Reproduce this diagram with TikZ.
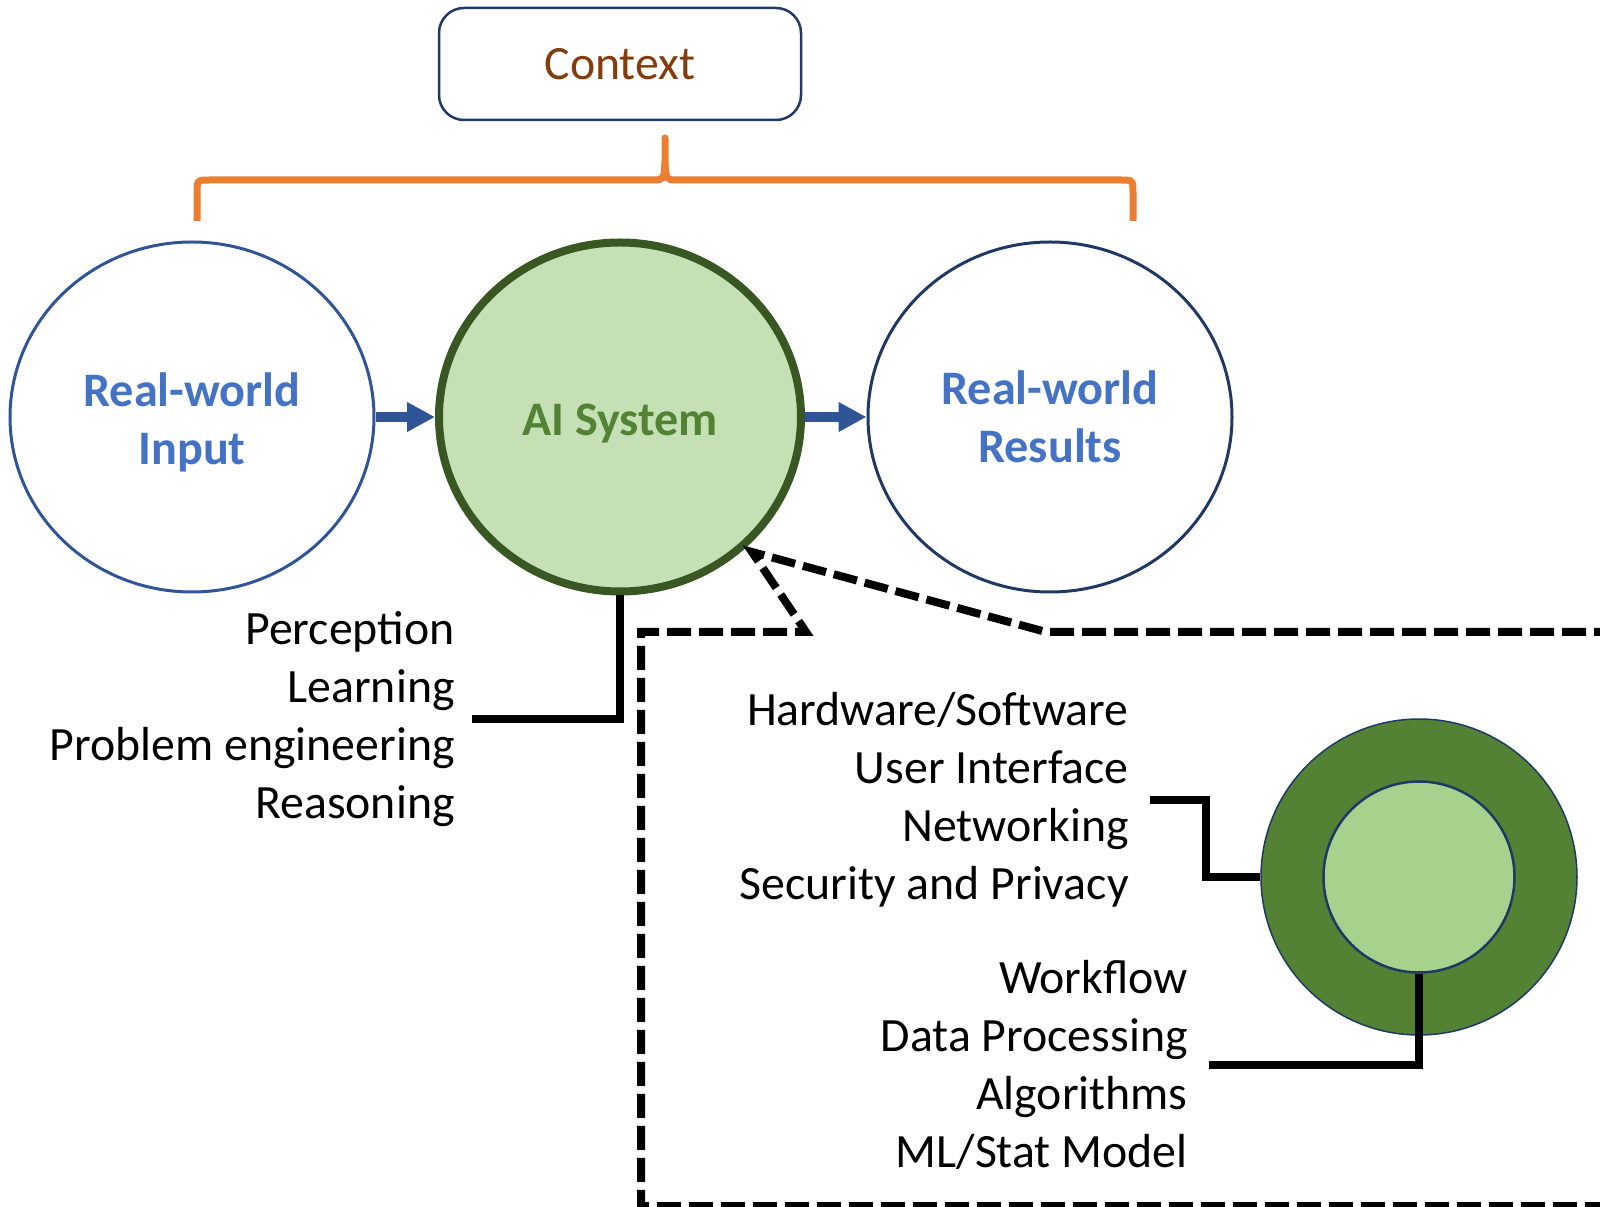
\documentclass[tikz,border=0pt]{standalone}
\usepackage{fontspec}
\setmainfont{Carlito}
\usepackage{xcolor}
\definecolor{ctxbrown}{RGB}{132,60,12}
\definecolor{navy}{RGB}{32,56,100}
\definecolor{blueline}{RGB}{47,85,151}
\definecolor{bluetext}{RGB}{68,114,196}
\definecolor{aifill}{RGB}{197,224,180}
\definecolor{aidark}{RGB}{56,87,35}
\definecolor{aigreen}{RGB}{84,130,53}
\definecolor{lightgreen}{RGB}{169,209,142}
\definecolor{braceorange}{RGB}{237,125,49}
\usetikzlibrary{arrows.meta,shapes.geometric}

\begin{document}
\begin{tikzpicture}[font=\fontsize{27.2}{33}\selectfont,
  world/.style={draw,ellipse,line width=0.06cm,minimum width=7.28cm,minimum height=7cm,inner sep=0pt,align=center,text=bluetext,font=\fontsize{27.4}{33}\selectfont\bfseries},
  flow/.style={-{Triangle[length=0.56cm,width=0.56cm]},line width=0.2cm,blueline},
  link/.style={line width=0.16cm},
  txt/.style={anchor=east,align=right,inner xsep=0.42cm}]
  \useasboundingbox (0,0) rectangle (32,24.12);
  % context box and its bracket
  \node[draw=navy,line width=0.05cm,rounded corners=0.5cm,minimum width=7.24cm,minimum height=2.24cm,text=ctxbrown] (ctx) at (12.4,22.84) {Context};
  \draw[braceorange,line width=0.14cm,line join=round]
    (3.94,19.7) -- (3.94,20.25) .. controls (3.94,20.52) .. (4.2,20.52) -- (13.05,20.52)
    .. controls (13.28,20.52) .. (13.3,20.9) -- (13.3,21.36) -- (13.3,20.9)
    .. controls (13.32,20.52) .. (13.55,20.52) -- (22.4,20.52)
    .. controls (22.66,20.52) .. (22.66,20.25) -- (22.66,19.7);
  % input -> system -> results
  \node[world,draw=blueline] (in) at (3.84,15.78) {\rule{0pt}{0.88cm}Real-world\\Input};
  \node[draw=aidark,fill=aifill,ellipse,line width=0.16cm,minimum width=7.24cm,minimum height=6.98cm,inner sep=0pt,text=aigreen,font=\fontsize{27.4}{33}\selectfont\bfseries] (ai) at (12.4,15.78) {\rule{0pt}{0.88cm}AI System};
  \node[world,draw=navy] (out) at (21.0,15.78) {Real-world\\Results};
  \draw[flow] (in) -- (ai);
  \draw[flow] (ai) -- (out);
  \node[txt,inner xsep=0.33cm] (tasks) at (9.43,9.74) {Perception\\Learning\\Problem engineering\\Reasoning};
  \draw[link] (ai) |- (tasks);
  % zoomed view of the system
  \coordinate (tip) at (15.04,13.08);
  \draw[line width=0.16cm,dash pattern=on 0.48cm off 0.16cm]
    (33,11.48) -- (20.92,11.48) -- (tip) -- (16.12,11.48) -- (12.82,11.48) -- (12.82,0) -- (33,0);
  \node[circle,draw=navy,fill=aigreen,line width=0.03cm,minimum size=6.32cm] (outer) at (28.38,6.58) {};
  \node[circle,draw=navy,fill=lightgreen,line width=0.05cm,minimum size=3.82cm] (core) at (28.38,6.58) {};
  \node[txt] (infra) at (23.0,8.12) {Hardware/Software\\User Interface\\Networking\\Security and Privacy};
  \node[txt] (pipe) at (24.18,2.82) {Workflow\\Data Processing\\Algorithms\\ML/Stat Model};
  \draw[link] (infra.east) -- ++(1.12,0) |- (outer);
  \draw[link] (pipe) -| (core);
\end{tikzpicture}
\end{document}
